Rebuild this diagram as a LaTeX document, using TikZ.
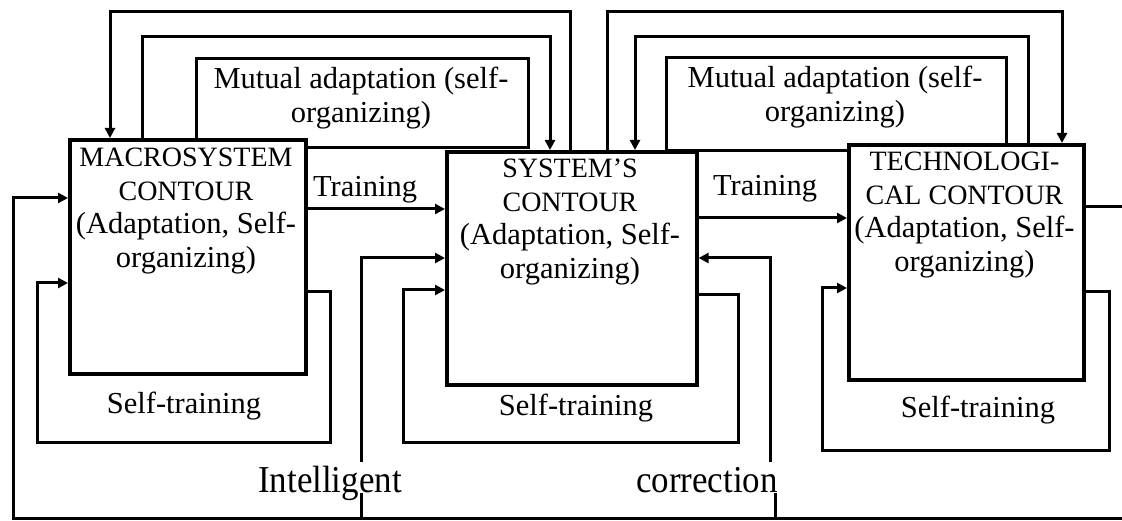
\documentclass[tikz,border=0pt]{standalone}
\usepackage{fontspec}
\usepackage{graphicx}
\setmainfont{Liberation Serif}
\usetikzlibrary{arrows.meta}
\newcommand\mainfs{\fontsize{30.5}{33.5}\selectfont}
\newcommand\capfs{\fontsize{28}{33.5}\selectfont}
\newcommand\bigfs{\fontsize{38}{40}\selectfont}
\begin{document}
\begin{tikzpicture}[x=1pt,y=-1pt,
  box/.style={draw, line width=3.6pt, fill=white, inner sep=0pt, anchor=north west},
  mbox/.style={draw, line width=3.4pt, fill=white, inner sep=0pt, anchor=north west},
  boxtext/.style={font=\mainfs, align=center, anchor=north, inner sep=0pt},
  conn/.style={line width=3pt},
  arr/.style={conn, -{Triangle[length=10pt,width=10pt]}},
  lab/.style={font=\mainfs, anchor=base, inner sep=0pt},
  biglab/.style={font=\bigfs, anchor=base, inner sep=0pt},
]
\useasboundingbox (0,0) rectangle (1122,521);

% mutual adaptation boxes (drawn first; contour boxes cover their lower parts)
\node[mbox, minimum width=332pt, minimum height=89pt] (m1) at (195,57) {};
\node[mbox, minimum width=340pt, minimum height=93pt] (m2) at (665,56) {};
\node[boxtext] (m1t) at (361,67) {Mutual adaptation (self-\\organizing)};
\node[boxtext] (m2t) at (835,66) {Mutual adaptation (self-\\organizing)};

% contour boxes
\node[box, minimum width=236pt, minimum height=234pt] (b1) at (68,138) {};
\node[box, minimum width=250pt, minimum height=233pt] (b2) at (445,150) {};
\node[box, minimum width=235pt, minimum height=235pt] (b3) at (847,143) {};

\node[boxtext] (b1t) at (186,148) {{\capfs MACROSYSTEM}\\{\capfs CONTOUR}\\(Adaptation, Self-\\organizing)};
\node[boxtext] (b2t) at (570,159) {{\capfs SYSTEM'S}\\{\capfs CONTOUR}\\(Adaptation, Self-\\organizing)};
\node[boxtext] (b3t) at (964.5,152) {{\capfs TECHNOLOGI-}\\{\capfs CAL CONTOUR}\\(Adaptation, Self-\\organizing)};

% routing coordinates
\coordinate (a1) at (570,12);  \coordinate (a2) at (110,12);
\coordinate (c1) at (142,37);  \coordinate (c2) at (550,37);
\coordinate (d1) at (607,12);  \coordinate (d2) at (1062,12);
\coordinate (e1) at (1028,37); \coordinate (e2) at (635,37);
\coordinate (t1) at (0,209);   \coordinate (t2) at (0,218);
\coordinate (o1) at (1122,207);

% top feedback lines
\draw[arr] (b2.north -| a1) -- (a1) -- (a2) -- (b1.north -| a2);
\draw[arr] (b1.north -| c1) -- (c1) -- (c2) -- (b2.north -| c2);
\draw[arr] (b2.north -| d1) -- (d1) -- (d2) -- (b3.north -| d2);
\draw[arr] (b3.north -| e1) -- (e1) -- (e2) -- (b2.north -| e2);

% training
\node[lab] (tr1) at (365,197) {Training};
\node[lab] (tr2) at (765,196) {Training};
\draw[arr] (b1.east |- t1) -- (b2.west |- t1);
\draw[arr] (b2.east |- t2) -- (b3.west |- t2);
\draw[conn] (b3.east |- o1) -- (o1);

% self-training loops
\coordinate (s1a) at (330,292); \coordinate (s1b) at (330,442); \coordinate (s1c) at (37,442); \coordinate (s1d) at (37,283);
\coordinate (s2a) at (738,295); \coordinate (s2b) at (738,442); \coordinate (s2c) at (403,442); \coordinate (s2d) at (403,290);
\coordinate (s3a) at (1109,292); \coordinate (s3b) at (1109,450); \coordinate (s3c) at (822,450); \coordinate (s3d) at (822,288);
\draw[arr] (b1.east |- s1a) -- (s1a) -- (s1b) -- (s1c) -- (s1d) -- (b1.west |- s1d);
\draw[arr] (b2.east |- s2a) -- (s2a) -- (s2b) -- (s2c) -- (s2d) -- (b2.west |- s2d);
\draw[arr] (b3.east |- s3a) -- (s3a) -- (s3b) -- (s3c) -- (s3d) -- (b3.west |- s3d);
\node[lab] (st1) at (184,413) {Self-training};
\node[lab] (st2) at (576,415) {Self-training};
\node[lab] (st3) at (978,417) {Self-training};

% intelligent correction
\coordinate (g0) at (1122,518); \coordinate (g1) at (13,518); \coordinate (g2) at (13,198);
\draw[arr] (g0) -- (g1) -- (g2) -- (b1.west |- g2);
\coordinate (i1) at (361,518); \coordinate (i2) at (361,493);
\coordinate (i3) at (361,462); \coordinate (i4) at (361,258);
\coordinate (k1) at (775,518); \coordinate (k2) at (775,493);
\coordinate (k3) at (770,462); \coordinate (k4) at (770,258);
\draw[conn] (i1) -- (i2);
\draw[arr] (i3) -- (i4) -- (b2.west |- i4);
\draw[conn] (k1) -- (k2);
\draw[arr] (k3) -- (k4) -- (b2.east |- k4);
\node[biglab] (ic1) at (330,492) {\scalebox{0.92}[1]{Intelligent}};
\node[biglab] (ic2) at (707,492) {\scalebox{0.92}[1]{correction}};
\end{tikzpicture}
\end{document}
